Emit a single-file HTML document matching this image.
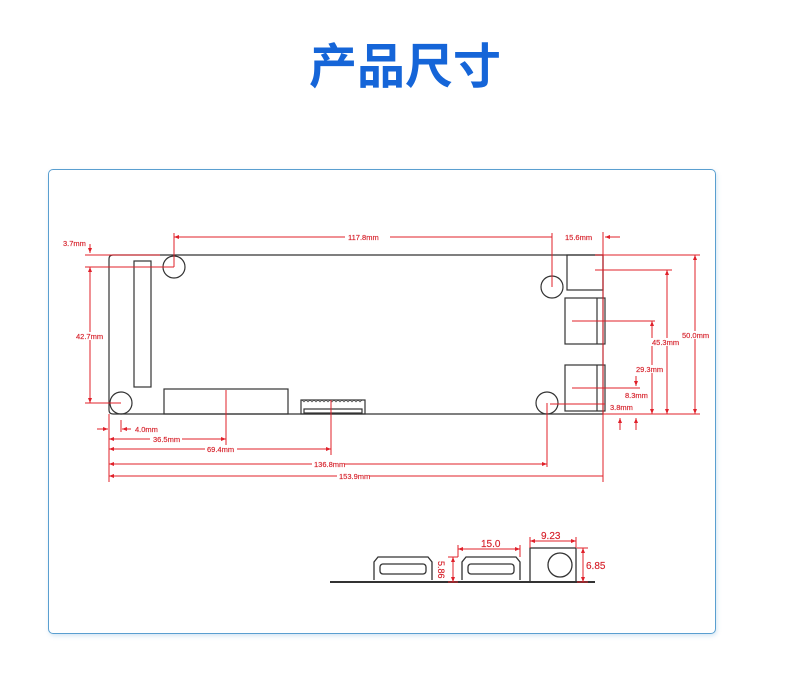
<!DOCTYPE html>
<html><head><meta charset="utf-8"><style>
html,body{margin:0;padding:0;background:#fff;width:790px;height:697px;overflow:hidden}
.t{position:absolute;left:10px;width:790px;top:38px;text-align:center;font-family:"Liberation Sans","Noto Sans CJK SC",sans-serif;font-size:48px;font-weight:bold;color:#1565d8;line-height:60px}
.p{position:absolute;left:48px;top:169px;width:666px;height:463px;border:1.5px solid #5a9fd0;border-radius:5px;box-shadow:1px 2px 4px rgba(90,160,210,0.25)}
svg{position:absolute;left:0;top:0}
text{font-family:"Liberation Sans",sans-serif;font-size:7.5px;fill:#d6202a;stroke:#d6202a;stroke-width:0.15}
</style></head><body>
<div class="t">产品尺寸</div>
<div class="p"></div>
<svg width="790" height="697" viewBox="0 0 790 697">
<defs>
<marker id="a" viewBox="0 0 10 10" refX="10" refY="5" markerWidth="7" markerHeight="5" orient="auto-start-reverse"><path d="M0 1L10 5L0 9z" fill="#e0202a"/></marker>
</defs>
<g fill="none" stroke="#333" stroke-width="1.2">
<path d="M113 255H603V414H113Q109 414 109 410V259Q109 255 113 255Z"/>
<circle cx="174" cy="267" r="11"/>
<circle cx="121" cy="403" r="11"/>
<circle cx="552" cy="287" r="11"/>
<circle cx="547" cy="403" r="11"/>
<rect x="134" y="261" width="17" height="126"/>
<rect x="164" y="389" width="124" height="25"/>
<rect x="301" y="400" width="64" height="14"/>
<rect x="304" y="409" width="58" height="4"/>
<path d="M302 400l2 2l2-2l2 2l2-2l2 2l2-2l2 2l2-2l2 2l2-2l2 2l2-2l2 2l2-2l2 2l2-2l2 2l2-2l2 2l2-2l2 2l2-2l2 2l2-2l2 2l2-2l2 2l2-2l2 2l2-2" stroke-width="0.6"/>
<rect x="567" y="255" width="36" height="35"/>
<rect x="565" y="298" width="40" height="46"/><path d="M597 298V344"/>
<rect x="565" y="365" width="40" height="46"/><path d="M597 365V411"/>
</g>
<g stroke="#e0202a" stroke-width="1" fill="none">
<path d="M174 233V267M552 233V287"/>
<path d="M174 237H345M390 237H552" marker-start="url(#a)"/>
<path d="M603 232V482"/>
<path d="M620 237H605" marker-end="url(#a)"/>
<path d="M595 255H700M603 414H700"/>
<path d="M695 255V414" marker-start="url(#a)" marker-end="url(#a)"/>
<path d="M595 270H672"/>
<path d="M667 270V414" marker-start="url(#a)" marker-end="url(#a)"/>
<path d="M572 321H655"/>
<path d="M652 321V414" marker-start="url(#a)" marker-end="url(#a)"/>
<path d="M572 388H640"/>
<path d="M636 376V386" marker-end="url(#a)"/>
<path d="M620 430V418" marker-end="url(#a)"/>
<path d="M636 430V418" marker-end="url(#a)"/>
<path d="M550 404H605"/>
<path d="M85 255H160M85 267H174M85 403H121"/>
<path d="M90 244V253" marker-end="url(#a)"/>
<path d="M90 267V403" marker-start="url(#a)" marker-end="url(#a)"/>
<path d="M109 414V482M121 420V432M226 390V445M331 400V455M547 403V467"/>
<path d="M97 429H108" marker-end="url(#a)"/>
<path d="M131 429H122" marker-end="url(#a)"/>
<path d="M109 439H226" marker-start="url(#a)" marker-end="url(#a)"/>
<path d="M109 449H331" marker-start="url(#a)" marker-end="url(#a)"/>
<path d="M109 464H547" marker-start="url(#a)" marker-end="url(#a)"/>
<path d="M109 476H603" marker-start="url(#a)"/>
</g>
<g fill="#fff" stroke="none">
<rect x="347" y="233" width="40" height="8"/>
<rect x="150" y="435" width="32" height="8"/>
<rect x="205" y="445" width="32" height="8"/>
<rect x="312" y="460" width="32" height="8"/>
<rect x="337" y="472" width="32" height="8"/>
<rect x="72" y="332" width="34" height="8"/>
<rect x="681" y="331" width="30" height="8"/>
<rect x="651" y="338" width="30" height="8"/>
<rect x="635" y="365" width="30" height="8"/>
</g>
<g>
<text x="348" y="240">117.8mm</text>
<text x="565" y="240">15.6mm</text>
<text x="63" y="246">3.7mm</text>
<text x="76" y="339">42.7mm</text>
<text x="682" y="338">50.0mm</text>
<text x="652" y="345">45.3mm</text>
<text x="636" y="372">29.3mm</text>
<text x="625" y="398">8.3mm</text>
<text x="610" y="410">3.8mm</text>
<text x="135" y="432">4.0mm</text>
<text x="153" y="442">36.5mm</text>
<text x="207" y="452">69.4mm</text>
<text x="314" y="467">136.8mm</text>
<text x="339" y="479">153.9mm</text>
</g>
<g fill="none" stroke="#333" stroke-width="1.3">
<path d="M330 582H595" stroke-width="2"/>
<path d="M374 580V562l4-5H428l4 5V580"/>
<rect x="380" y="564" width="46" height="10" rx="3"/>
<path d="M462 580V562l4-5H516l4 5V580"/>
<rect x="468" y="564" width="46" height="10" rx="3"/>
<rect x="530" y="548" width="46" height="34"/>
<circle cx="560" cy="565" r="12"/>
</g>
<g stroke="#e0202a" stroke-width="1" fill="none">
<path d="M458 545V557M520 545V557M530 537V548M576 537V548M577 548H588M577 582H588M448 557H458M448 582H458"/>
<path d="M458 549H520" marker-start="url(#a)" marker-end="url(#a)"/>
<path d="M530 541H576" marker-start="url(#a)" marker-end="url(#a)"/>
<path d="M583 548V582" marker-start="url(#a)" marker-end="url(#a)"/>
<path d="M453 557V582" marker-start="url(#a)" marker-end="url(#a)"/>
</g>
<text x="481" y="547" style="font-size:10px">15.0</text>
<text x="541" y="539" style="font-size:10px">9.23</text>
<text x="586" y="569" style="font-size:10px">6.85</text>
<text x="0" y="0" style="font-size:9px" transform="translate(438 561) rotate(90)">5.86</text>
</svg>
</body></html>
